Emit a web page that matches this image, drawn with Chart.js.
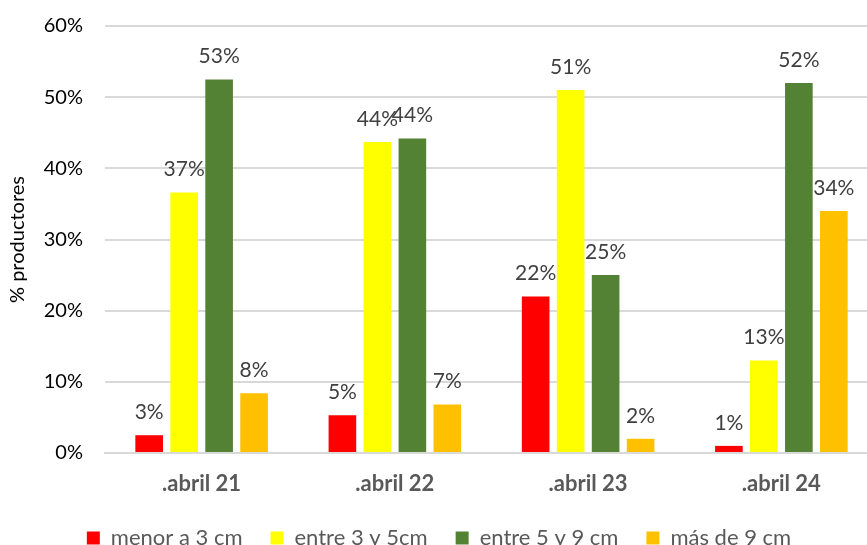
<!DOCTYPE html>
<html>
<head>
<meta charset="utf-8">
<script src="https://cdn.jsdelivr.net/npm/chart.js@4"></script>
<style>
  html, body { margin: 0; padding: 0; background: #fff; overflow: hidden; }
  #wrap { position: absolute; left: 0; top: 0; width: 890px; height: 559px; }
</style>
</head>
<body>
<div id="wrap"><canvas id="grafic"></canvas></div>
<script>
// date (procente)
const categorii = [".abril 21", ".abril 22", ".abril 23", ".abril 24"];
const serii = ["menor a 3 cm", "entre 3 y 5cm", "entre 5 y 9 cm", "más de 9 cm"];
const menor3 = [2.5, 5.3, 22.0, 1.0];
const entre3y5 = [36.6, 43.7, 51.0, 13.0];
const entre5y9 = [52.5, 44.2, 25.0, 52.0];
const mas9 = [8.4, 6.8, 2.0, 34.0];
const culori = ["#FF0000", "#FFFF00", "#548235", "#FFC000"];
const tickuriY = [0, 10, 20, 30, 40, 50, 60];

const FONT = "Lato, 'Open Sans', sans-serif";

// etichete deasupra barelor
const eticheteBare = {
  id: "eticheteBare",
  afterDatasetsDraw(chart) {
    const ctx = chart.ctx;
    ctx.save();
    ctx.font = "21px " + FONT;
    ctx.fillStyle = "#404040";
    ctx.textAlign = "center";
    ctx.textBaseline = "middle";
    chart.data.datasets.forEach((ds, i) => {
      chart.getDatasetMeta(i).data.forEach((bar, j) => {
        ctx.fillText(Math.round(ds.data[j]) + "%", bar.x, bar.y - 23);
      });
    });
    ctx.restore();
  }
};

const valori = [menor3, entre3y5, entre5y9, mas9];

new Chart(document.getElementById("grafic").getContext("2d"), {
  type: "bar",
  data: {
    labels: categorii,
    datasets: serii.map((s, i) => ({
      label: s,
      data: valori[i],
      backgroundColor: culori[i],
      borderWidth: 0,
      categoryPercentage: 0.724,
      barPercentage: 0.79
    }))
  },
  options: {
    responsive: true,
    maintainAspectRatio: false,
    animation: false,
    layout: { padding: { top: 26, right: 12, left: 0, bottom: 0 } },
    plugins: {
      tooltip: { enabled: false },
      legend: {
        position: "bottom",
        labels: {
          font: { family: FONT, size: 22 },
          color: "#595959",
          boxWidth: 13,
          boxHeight: 13,
          padding: 28
        }
      }
    },
    scales: {
      x: {
        grid: { display: false },
        border: { color: "#d9d9d9", width: 2 },
        ticks: {
          font: { family: FONT, size: 22, weight: "bold" },
          color: "#595959",
          padding: 10
        },
        afterFit: s => { s.height = 46; }
      },
      y: {
        min: 0,
        max: 60,
        afterBuildTicks: s => { s.ticks = tickuriY.map(v => ({ value: v })); },
        grid: { color: "#d9d9d9", lineWidth: 2, drawTicks: false },
        border: { display: false },
        ticks: {
          font: { family: FONT, size: 20 },
          color: "#000",
          padding: 22,
          callback: v => v + "%"
        },
        title: {
          display: true,
          text: "% productores",
          font: { family: FONT, size: 20 },
          color: "#000",
          padding: { top: 6, bottom: 0 }
        },
        afterFit: s => { s.width = 105; s.paddingTop = 0; s.paddingBottom = 0; }
      }
    }
  },
  plugins: [eticheteBare]
});
</script>
</body>
</html>
